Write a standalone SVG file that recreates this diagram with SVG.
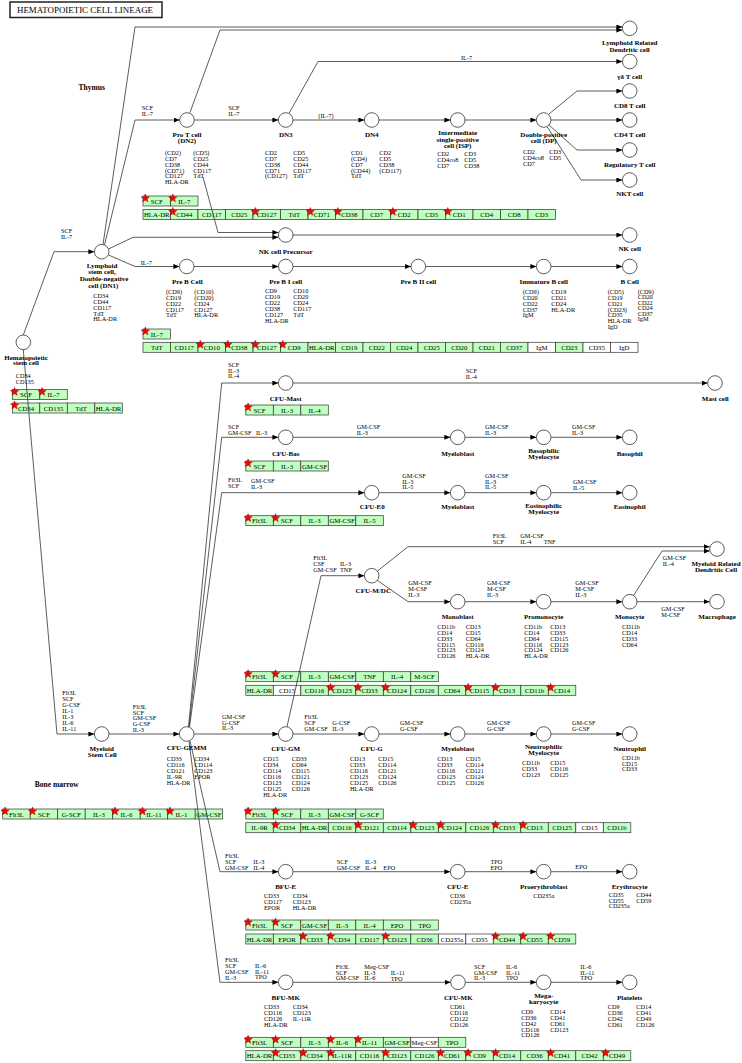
<svg xmlns="http://www.w3.org/2000/svg" width="742" height="1063" viewBox="0 0 742 1063">
<defs>
<style>
.ln{fill:none;stroke:#333;stroke-width:0.8;marker-end:url(#ar)}
.nd circle{fill:#fff;stroke:#333;stroke-width:0.8}
.nm{font-family:"Liberation Serif",serif;font-weight:bold;font-size:7px;text-anchor:middle;fill:#000}
.mk{font-family:"Liberation Serif",serif;font-size:6.3px;fill:#000}
.lb{font-family:"Liberation Serif",serif;font-size:6.3px;fill:#000}
.gb rect{fill:#bfffbf;stroke:#333;stroke-width:0.7}
.gb rect.w{fill:#fff}
.gb text{font-family:"Liberation Serif",serif;font-size:6.8px;text-anchor:middle;fill:#000}
.rg{font-family:"Liberation Serif",serif;font-weight:bold;font-size:7.5px;text-anchor:middle;fill:#000}
</style>
<marker id="ar" markerUnits="userSpaceOnUse" markerWidth="7" markerHeight="6" refX="6" refY="2.5" orient="auto"><path d="M0,0L6,2.5L0,5z" fill="#000"/></marker>
<polygon id="star" points="0,-4.3 1.06,-1.46 4.09,-1.33 1.71,0.56 2.53,3.48 0,1.8 -2.53,3.48 -1.71,0.56 -4.09,-1.33 -1.06,-1.46" fill="#f00" stroke="#900" stroke-width="0.5"/>
</defs>
<rect width="742" height="1063" fill="#fff"/>
<g id="title"><rect x="10" y="2" width="152" height="15.5" fill="#fff" stroke="#222" stroke-width="1.5"/><text x="17" y="13.2" font-family="Liberation Serif, serif" font-size="9" textLength="136" lengthAdjust="spacingAndGlyphs">HEMATOPOIETIC CELL LINEAGE</text></g>
<text class="rg" x="91.7" y="89.5">Thymus</text>
<text class="rg" x="56.7" y="786.8">Bone marrow</text>

<!-- gene boxes -->
<g class="gb" id="genes-t1" transform="translate(143,196)"><rect x="0" y="0" width="27.5" height="10"/><text x="13.75" y="7.8">SCF</text><rect x="27.5" y="0" width="27.5" height="10"/><text x="41.25" y="7.8">IL-7</text><use href="#star" x="2.3" y="2.3"/><use href="#star" x="29.8" y="2.3"/></g>
<g class="gb" id="genes-t2" transform="translate(143,209.5)">
<rect x="0" width="27.5" height="10"/><text x="13.75" y="7.8">HLA-DR</text>
<rect x="27.5" width="27.5" height="10"/><text x="41.25" y="7.8">CD44</text>
<rect x="55" width="27.5" height="10"/><text x="68.75" y="7.8">CD117</text>
<rect x="82.5" width="27.5" height="10"/><text x="96.25" y="7.8">CD25</text>
<rect x="110" width="27.5" height="10"/><text x="123.75" y="7.8">CD127</text>
<rect x="137.5" width="27.5" height="10"/><text x="151.25" y="7.8">TdT</text>
<rect x="165" width="27.5" height="10"/><text x="178.75" y="7.8">CD71</text>
<rect x="192.5" width="27.5" height="10"/><text x="206.25" y="7.8">CD38</text>
<rect x="220" width="27.5" height="10"/><text x="233.75" y="7.8">CD7</text>
<rect x="247.5" width="27.5" height="10"/><text x="261.25" y="7.8">CD2</text>
<rect x="275" width="27.5" height="10"/><text x="288.75" y="7.8">CD5</text>
<rect x="302.5" width="27.5" height="10"/><text x="316.25" y="7.8">CD1</text>
<rect x="330" width="27.5" height="10"/><text x="343.75" y="7.8">CD4</text>
<rect x="357.5" width="27.5" height="10"/><text x="371.25" y="7.8">CD8</text>
<rect x="385" width="27.5" height="10"/><text x="398.75" y="7.8">CD3</text>
<use href="#star" x="29.8" y="2.3"/><use href="#star" x="112.3" y="2.3"/><use href="#star" x="167.3" y="2.3"/><use href="#star" x="194.8" y="2.3"/><use href="#star" x="249.8" y="2.3"/><use href="#star" x="304.8" y="2.3"/>
</g>
<g class="gb" id="genes-b1" transform="translate(143,329)"><rect x="0" width="27.5" height="10"/><text x="13.75" y="7.8">IL-7</text><use href="#star" x="2.3" y="2.3"/></g>
<g class="gb" id="genes-b2" transform="translate(143,342.3)">
<rect x="0" width="27.5" height="10"/><text x="13.75" y="7.8">TdT</text>
<rect x="27.5" width="27.5" height="10"/><text x="41.25" y="7.8">CD117</text>
<rect x="55" width="27.5" height="10"/><text x="68.75" y="7.8">CD10</text>
<rect x="82.5" width="27.5" height="10"/><text x="96.25" y="7.8">CD38</text>
<rect x="110" width="27.5" height="10"/><text x="123.75" y="7.8">CD127</text>
<rect x="137.5" width="27.5" height="10"/><text x="151.25" y="7.8">CD9</text>
<rect x="165" width="27.5" height="10"/><text x="178.75" y="7.8">HLA-DR</text>
<rect x="192.5" width="27.5" height="10"/><text x="206.25" y="7.8">CD19</text>
<rect x="220" width="27.5" height="10"/><text x="233.75" y="7.8">CD22</text>
<rect x="247.5" width="27.5" height="10"/><text x="261.25" y="7.8">CD24</text>
<rect x="275" width="27.5" height="10"/><text x="288.75" y="7.8">CD25</text>
<rect x="302.5" width="27.5" height="10"/><text x="316.25" y="7.8">CD20</text>
<rect x="330" width="27.5" height="10"/><text x="343.75" y="7.8">CD21</text>
<rect x="357.5" width="27.5" height="10"/><text x="371.25" y="7.8">CD37</text>
<rect class="w" x="385" width="27.5" height="10"/><text x="398.75" y="7.8">IgM</text>
<rect x="412.5" width="27.5" height="10"/><text x="426.25" y="7.8">CD23</text>
<rect class="w" x="440" width="27.5" height="10"/><text x="453.75" y="7.8">CD35</text>
<rect class="w" x="467.5" width="27.5" height="10"/><text x="481.25" y="7.8">IgD</text>
<use href="#star" x="57.3" y="2.3"/><use href="#star" x="84.8" y="2.3"/><use href="#star" x="112.3" y="2.3"/><use href="#star" x="139.8" y="2.3"/>
</g>
<g class="gb" id="genes-h1" transform="translate(12.3,389.5)"><rect x="0" width="27.5" height="10"/><text x="13.75" y="7.8">SCF</text><rect x="27.5" width="27.5" height="10"/><text x="41.25" y="7.8">IL-7</text><use href="#star" x="2.3" y="2.3"/><use href="#star" x="29.8" y="2.3"/></g>
<g class="gb" id="genes-h2" transform="translate(12.3,403)"><rect x="0" width="27.5" height="10"/><text x="13.75" y="7.8">CD34</text><rect x="27.5" width="27.5" height="10"/><text x="41.25" y="7.8">CD135</text><rect x="55" width="27.5" height="10"/><text x="68.75" y="7.8">TdT</text><rect x="82.5" width="27.5" height="10"/><text x="96.25" y="7.8">HLA-DR</text><use href="#star" x="2.3" y="2.3"/></g>
<g class="gb" id="genes-mast" transform="translate(245.8,405)"><rect x="0" width="27.5" height="10"/><text x="13.75" y="7.8">SCF</text><rect x="27.5" width="27.5" height="10"/><text x="41.25" y="7.8">IL-3</text><rect x="55" width="27.5" height="10"/><text x="68.75" y="7.8">IL-4</text><use href="#star" x="2.3" y="2.3"/></g>
<g class="gb" id="genes-bas" transform="translate(245.8,461)"><rect x="0" width="27.5" height="10"/><text x="13.75" y="7.8">SCF</text><rect x="27.5" width="27.5" height="10"/><text x="41.25" y="7.8">IL-3</text><rect x="55" width="27.5" height="10"/><text x="68.75" y="7.8">GM-CSF</text><use href="#star" x="2.3" y="2.3"/></g>
<g class="gb" id="genes-eo" transform="translate(245.8,515.7)"><rect x="0" width="27.5" height="10"/><text x="13.75" y="7.8">Flt3L</text><rect x="27.5" width="27.5" height="10"/><text x="41.25" y="7.8">SCF</text><rect x="55" width="27.5" height="10"/><text x="68.75" y="7.8">IL-3</text><rect x="82.5" width="27.5" height="10"/><text x="96.25" y="7.8">GM-CSF</text><rect x="110" width="27.5" height="10"/><text x="123.75" y="7.8">IL-5</text><use href="#star" x="2.3" y="2.3"/><use href="#star" x="29.8" y="2.3"/></g>
<g class="gb" id="genes-mdc1" transform="translate(245.8,671.7)"><rect x="0" width="27.5" height="10"/><text x="13.75" y="7.8">Flt3L</text><rect x="27.5" width="27.5" height="10"/><text x="41.25" y="7.8">SCF</text><rect x="55" width="27.5" height="10"/><text x="68.75" y="7.8">IL-3</text><rect x="82.5" width="27.5" height="10"/><text x="96.25" y="7.8">GM-CSF</text><rect x="110" width="27.5" height="10"/><text x="123.75" y="7.8">TNF</text><rect x="137.5" width="27.5" height="10"/><text x="151.25" y="7.8">IL-4</text><rect x="165" width="27.5" height="10"/><text x="178.75" y="7.8">M-SCF</text><use href="#star" x="2.3" y="2.3"/><use href="#star" x="29.8" y="2.3"/></g>
<g class="gb" id="genes-mdc2" transform="translate(245.8,685.3)">
<rect x="0" width="27.5" height="10"/><text x="13.75" y="7.8">HLA-DR</text>
<rect class="w" x="27.5" width="27.5" height="10"/><text x="41.25" y="7.8">CD15</text>
<rect x="55" width="27.5" height="10"/><text x="68.75" y="7.8">CD116</text>
<rect x="82.5" width="27.5" height="10"/><text x="96.25" y="7.8">CD123</text>
<rect x="110" width="27.5" height="10"/><text x="123.75" y="7.8">CD33</text>
<rect x="137.5" width="27.5" height="10"/><text x="151.25" y="7.8">CD124</text>
<rect x="165" width="27.5" height="10"/><text x="178.75" y="7.8">CD126</text>
<rect x="192.5" width="27.5" height="10"/><text x="206.25" y="7.8">CD64</text>
<rect x="220" width="27.5" height="10"/><text x="233.75" y="7.8">CD115</text>
<rect x="247.5" width="27.5" height="10"/><text x="261.25" y="7.8">CD13</text>
<rect x="275" width="27.5" height="10"/><text x="288.75" y="7.8">CD11b</text>
<rect x="302.5" width="27.5" height="10"/><text x="316.25" y="7.8">CD14</text>
<use href="#star" x="84.8" y="2.3"/><use href="#star" x="112.3" y="2.3"/><use href="#star" x="139.8" y="2.3"/><use href="#star" x="222.3" y="2.3"/><use href="#star" x="249.8" y="2.3"/><use href="#star" x="304.8" y="2.3"/>
</g>
<g class="gb" id="genes-bm" transform="translate(2.7,809)">
<rect x="0" width="27.5" height="10"/><text x="13.75" y="7.8">Flt3L</text>
<rect x="27.5" width="27.5" height="10"/><text x="41.25" y="7.8">SCF</text>
<rect x="55" width="27.5" height="10"/><text x="68.75" y="7.8">G-SCF</text>
<rect x="82.5" width="27.5" height="10"/><text x="96.25" y="7.8">IL-3</text>
<rect x="110" width="27.5" height="10"/><text x="123.75" y="7.8">IL-6</text>
<rect x="137.5" width="27.5" height="10"/><text x="151.25" y="7.8">IL-11</text>
<rect x="165" width="27.5" height="10"/><text x="178.75" y="7.8">IL-1</text>
<rect x="192.5" width="27.5" height="10"/><text x="206.25" y="7.8">GM-CSF</text>
<use href="#star" x="2.3" y="2.3"/><use href="#star" x="29.8" y="2.3"/><use href="#star" x="112.3" y="2.3"/><use href="#star" x="139.8" y="2.3"/><use href="#star" x="167.3" y="2.3"/>
</g>
<g class="gb" id="genes-gm1" transform="translate(245.8,809)"><rect x="0" width="27.5" height="10"/><text x="13.75" y="7.8">Flt3L</text><rect x="27.5" width="27.5" height="10"/><text x="41.25" y="7.8">SCF</text><rect x="55" width="27.5" height="10"/><text x="68.75" y="7.8">IL-3</text><rect x="82.5" width="27.5" height="10"/><text x="96.25" y="7.8">GM-CSF</text><rect x="110" width="27.5" height="10"/><text x="123.75" y="7.8">G-SCF</text><use href="#star" x="2.3" y="2.3"/><use href="#star" x="29.8" y="2.3"/></g>
<g class="gb" id="genes-gm2" transform="translate(245.8,822.7)">
<rect x="0" width="27.5" height="10"/><text x="13.75" y="7.8">IL-9R</text>
<rect x="27.5" width="27.5" height="10"/><text x="41.25" y="7.8">CD34</text>
<rect x="55" width="27.5" height="10"/><text x="68.75" y="7.8">HLA-DR</text>
<rect x="82.5" width="27.5" height="10"/><text x="96.25" y="7.8">CD116</text>
<rect x="110" width="27.5" height="10"/><text x="123.75" y="7.8">CD121</text>
<rect x="137.5" width="27.5" height="10"/><text x="151.25" y="7.8">CD114</text>
<rect x="165" width="27.5" height="10"/><text x="178.75" y="7.8">CD123</text>
<rect x="192.5" width="27.5" height="10"/><text x="206.25" y="7.8">CD124</text>
<rect x="220" width="27.5" height="10"/><text x="233.75" y="7.8">CD126</text>
<rect x="247.5" width="27.5" height="10"/><text x="261.25" y="7.8">CD33</text>
<rect x="275" width="27.5" height="10"/><text x="288.75" y="7.8">CD13</text>
<rect x="302.5" width="27.5" height="10"/><text x="316.25" y="7.8">CD125</text>
<rect class="w" x="330" width="27.5" height="10"/><text x="343.75" y="7.8">CD15</text>
<rect x="357.5" width="27.5" height="10"/><text x="371.25" y="7.8">CD11b</text>
<use href="#star" x="29.8" y="2.3"/><use href="#star" x="112.3" y="2.3"/><use href="#star" x="167.3" y="2.3"/><use href="#star" x="194.8" y="2.3"/><use href="#star" x="249.8" y="2.3"/><use href="#star" x="277.3" y="2.3"/>
</g>
<g class="gb" id="genes-e1" transform="translate(245.8,920)"><rect x="0" width="27.5" height="10"/><text x="13.75" y="7.8">Flt3L</text><rect x="27.5" width="27.5" height="10"/><text x="41.25" y="7.8">SCF</text><rect x="55" width="27.5" height="10"/><text x="68.75" y="7.8">GM-CSF</text><rect x="82.5" width="27.5" height="10"/><text x="96.25" y="7.8">IL-3</text><rect x="110" width="27.5" height="10"/><text x="123.75" y="7.8">IL-4</text><rect x="137.5" width="27.5" height="10"/><text x="151.25" y="7.8">EPO</text><rect x="165" width="27.5" height="10"/><text x="178.75" y="7.8">TPO</text><use href="#star" x="2.3" y="2.3"/><use href="#star" x="29.8" y="2.3"/></g>
<g class="gb" id="genes-e2" transform="translate(245.8,934)">
<rect x="0" width="27.5" height="10"/><text x="13.75" y="7.8">HLA-DR</text>
<rect x="27.5" width="27.5" height="10"/><text x="41.25" y="7.8">EPOR</text>
<rect x="55" width="27.5" height="10"/><text x="68.75" y="7.8">CD33</text>
<rect x="82.5" width="27.5" height="10"/><text x="96.25" y="7.8">CD34</text>
<rect x="110" width="27.5" height="10"/><text x="123.75" y="7.8">CD117</text>
<rect x="137.5" width="27.5" height="10"/><text x="151.25" y="7.8">CD123</text>
<rect x="165" width="27.5" height="10"/><text x="178.75" y="7.8">CD36</text>
<rect class="w" x="192.5" width="27.5" height="10"/><text x="206.25" y="7.8">CD235a</text>
<rect class="w" x="220" width="27.5" height="10"/><text x="233.75" y="7.8">CD35</text>
<rect x="247.5" width="27.5" height="10"/><text x="261.25" y="7.8">CD44</text>
<rect x="275" width="27.5" height="10"/><text x="288.75" y="7.8">CD55</text>
<rect x="302.5" width="27.5" height="10"/><text x="316.25" y="7.8">CD59</text>
<use href="#star" x="57.3" y="2.3"/><use href="#star" x="84.8" y="2.3"/><use href="#star" x="139.8" y="2.3"/><use href="#star" x="249.8" y="2.3"/><use href="#star" x="277.3" y="2.3"/><use href="#star" x="304.8" y="2.3"/>
</g>
<g class="gb" id="genes-mk1" transform="translate(245.8,1037.3)">
<rect x="0" width="27.5" height="10"/><text x="13.75" y="7.8">Flt3L</text>
<rect x="27.5" width="27.5" height="10"/><text x="41.25" y="7.8">SCF</text>
<rect x="55" width="27.5" height="10"/><text x="68.75" y="7.8">IL-3</text>
<rect x="82.5" width="27.5" height="10"/><text x="96.25" y="7.8">IL-6</text>
<rect x="110" width="27.5" height="10"/><text x="123.75" y="7.8">IL-11</text>
<rect x="137.5" width="27.5" height="10"/><text x="151.25" y="7.8">GM-CSF</text>
<rect class="w" x="165" width="27.5" height="10"/><text x="178.75" y="7.8" textLength="26" lengthAdjust="spacingAndGlyphs">Meg-CSF</text>
<rect x="192.5" width="27.5" height="10"/><text x="206.25" y="7.8">TPO</text>
<use href="#star" x="2.3" y="2.3"/><use href="#star" x="29.8" y="2.3"/><use href="#star" x="84.8" y="2.3"/><use href="#star" x="112.3" y="2.3"/>
</g>
<g class="gb" id="genes-mk2" transform="translate(245.8,1050.7)">
<rect x="0" width="27.5" height="10"/><text x="13.75" y="7.8">HLA-DR</text>
<rect x="27.5" width="27.5" height="10"/><text x="41.25" y="7.8">CD33</text>
<rect x="55" width="27.5" height="10"/><text x="68.75" y="7.8">CD34</text>
<rect x="82.5" width="27.5" height="10"/><text x="96.25" y="7.8">IL-11R</text>
<rect x="110" width="27.5" height="10"/><text x="123.75" y="7.8">CD116</text>
<rect x="137.5" width="27.5" height="10"/><text x="151.25" y="7.8">CD123</text>
<rect x="165" width="27.5" height="10"/><text x="178.75" y="7.8">CD126</text>
<rect x="192.5" width="27.5" height="10"/><text x="206.25" y="7.8">CD61</text>
<rect x="220" width="27.5" height="10"/><text x="233.75" y="7.8">CD9</text>
<rect x="247.5" width="27.5" height="10"/><text x="261.25" y="7.8">CD14</text>
<rect x="275" width="27.5" height="10"/><text x="288.75" y="7.8">CD36</text>
<rect x="302.5" width="27.5" height="10"/><text x="316.25" y="7.8">CD41</text>
<rect x="330" width="27.5" height="10"/><text x="343.75" y="7.8">CD42</text>
<rect x="357.5" width="27.5" height="10"/><text x="371.25" y="7.8">CD49</text>
<use href="#star" x="29.8" y="2.3"/><use href="#star" x="57.3" y="2.3"/><use href="#star" x="84.8" y="2.3"/><use href="#star" x="139.8" y="2.3"/><use href="#star" x="194.8" y="2.3"/><use href="#star" x="222.3" y="2.3"/><use href="#star" x="249.8" y="2.3"/><use href="#star" x="304.8" y="2.3"/><use href="#star" x="359.8" y="2.3"/>
</g>

<!-- connectors -->
<g id="connectors">
<path class="ln" d="M23.3,335 L54,251.7 L94.4,251.7"/>
<path class="ln" d="M23.3,349.6 L57,734 L94.4,734"/>
<path class="ln" d="M103,244.5 L135,27 L622.4,27"/>
<path class="ln" d="M190,112.5 L220,30 L622.4,30"/>
<path class="ln" d="M104.5,245 L135,120 L179.7,120"/>
<path class="ln" d="M194.3,120 L278.4,120"/>
<path class="ln" d="M293,120 L364.4,120"/>
<path class="ln" d="M379,120 L450.4,120"/>
<path class="ln" d="M465,120 L536.4,120"/>
<path class="ln" d="M551,120 L622.4,120"/>
<path class="ln" d="M289,113.5 L318,61.5 L622.4,61.5"/>
<path class="ln" d="M549,114 L577,91 L622.4,91"/>
<path class="ln" d="M549,125 L577,150 L622.4,150"/>
<path class="ln" d="M547,126.5 L581,180 L622.4,180"/>
<path class="ln" d="M203,177 L218,232.5 L278.4,232.5"/>
<path class="ln" d="M108.5,249 L133,237.3 L278.4,237.3"/>
<path class="ln" d="M293,235 L622.4,235"/>
<path class="ln" d="M108.5,255 L135,266.5 L179.4,266.5"/>
<path class="ln" d="M194,266.5 L278.4,266.5"/>
<path class="ln" d="M293,266.5 L411,266.5"/>
<path class="ln" d="M425.6,266.5 L536.4,266.5"/>
<path class="ln" d="M551,266.5 L622.4,266.5"/>
<path class="ln" d="M109,734 L179.4,734"/>
<path class="ln" d="M188.5,726.8 L221.7,383 L278.4,383"/>
<path class="ln" d="M189,726.8 L221.7,437.3 L278.4,437.3"/>
<path class="ln" d="M189.5,726.8 L221.7,492.7 L364.4,492.7"/>
<path class="ln" d="M194,734 L278.4,734"/>
<path class="ln" d="M190,741 L220,871.7 L278.4,871.7"/>
<path class="ln" d="M189,741.2 L220,982.3 L278.4,982.3"/>
<path class="ln" d="M293,383 L707.7,383"/>
<path class="ln" d="M293,437.3 L450.4,437.3"/>
<path class="ln" d="M465,437.3 L536.4,437.3"/>
<path class="ln" d="M551,437.3 L622.4,437.3"/>
<path class="ln" d="M379,492.7 L450.4,492.7"/>
<path class="ln" d="M465,492.7 L536.4,492.7"/>
<path class="ln" d="M551,492.7 L622.4,492.7"/>
<path class="ln" d="M287,726.7 L321,575.7 L364.4,575.7"/>
<path class="ln" d="M377.5,571 L408,546.7 L709.7,546.7"/>
<path class="ln" d="M377.5,580.5 L408,601.7 L450.4,601.7"/>
<path class="ln" d="M465,601.7 L536.4,601.7"/>
<path class="ln" d="M551,601.7 L622.4,601.7"/>
<path class="ln" d="M633.5,595.5 L662,551 L709.7,551"/>
<path class="ln" d="M637,601.7 L709.7,601.7"/>
<path class="ln" d="M293,734 L364.4,734"/>
<path class="ln" d="M379,734 L450.4,734"/>
<path class="ln" d="M465,734 L536.4,734"/>
<path class="ln" d="M551,734 L622.4,734"/>
<path class="ln" d="M293,871.7 L450.4,871.7"/>
<path class="ln" d="M465,871.7 L536.4,871.7"/>
<path class="ln" d="M551,871.7 L622.4,871.7"/>
<path class="ln" d="M293,982.3 L450.7,982.3"/>
<path class="ln" d="M465.3,982.3 L536.4,982.3"/>
<path class="ln" d="M551,982.3 L622.4,982.3"/>
</g>

<!-- connector labels -->
<g id="edge-labels" class="lb">
<text x="61" y="233.1">SCF<tspan x="61" dy="5.8">IL-7</tspan></text>
<text x="141.7" y="110.4">SCF<tspan x="141.7" dy="5.8">IL-7</tspan></text>
<text x="228.3" y="110.4">SCF<tspan x="228.3" dy="5.8">IL-7</tspan></text>
<text x="318.3" y="118.1">(IL-7)</text>
<text x="461" y="59.8">IL-7</text>
<text x="140.7" y="264.8">IL-7</text>
<text x="228" y="366.8">SCF<tspan x="228" dy="5.8">IL-3</tspan><tspan x="228" dy="5.8">IL-4</tspan></text>
<text x="465.7" y="373.1">SCF<tspan x="465.7" dy="5.8">IL-4</tspan></text>
<text x="228" y="429.4">SCF<tspan x="228" dy="5.8">GM-CSF</tspan></text>
<text x="256" y="435.1">IL-3</text>
<text x="356.7" y="428.8">GM-CSF<tspan x="356.7" dy="5.8">IL-3</tspan></text>
<text x="485" y="428.8">GM-CSF<tspan x="485" dy="5.8">IL-3</tspan></text>
<text x="572" y="428.8">GM-CSF<tspan x="572" dy="5.8">IL-3</tspan></text>
<text x="228" y="482.1">Flt3L<tspan x="228" dy="5.8">SCF</tspan></text>
<text x="251" y="483.1">GM-CSF<tspan x="251" dy="5.8">IL-3</tspan></text>
<text x="402.3" y="477.8">GM-CSF<tspan x="402.3" dy="5.8">IL-3</tspan><tspan x="402.3" dy="5.8">IL-5</tspan></text>
<text x="485" y="477.8">GM-CSF<tspan x="485" dy="5.8">IL-3</tspan><tspan x="485" dy="5.8">IL-5</tspan></text>
<text x="573" y="483.8">GM-CSF<tspan x="573" dy="5.8">IL-5</tspan></text>
<text x="62.3" y="695.4">Flt3L<tspan x="62.3" dy="5.95">SCF</tspan><tspan x="62.3" dy="5.95">G-CSF</tspan><tspan x="62.3" dy="5.95">IL-1</tspan><tspan x="62.3" dy="5.95">IL-3</tspan><tspan x="62.3" dy="5.95">IL-6</tspan><tspan x="62.3" dy="5.95">IL-11</tspan></text>
<text x="132.7" y="708.8">Flt3L<tspan x="132.7" dy="5.8">SCF</tspan><tspan x="132.7" dy="5.8">GM-CSF</tspan><tspan x="132.7" dy="5.8">G-CSF</tspan><tspan x="132.7" dy="5.8">IL-3</tspan></text>
<text x="222" y="718.8">GM-CSF<tspan x="222" dy="5.8">G-CSF</tspan><tspan x="222" dy="5.8">IL-3</tspan></text>
<text x="313.3" y="560.4">Flt3L<tspan x="313.3" dy="5.8">CSF</tspan><tspan x="313.3" dy="5.8">GM-CSF</tspan></text>
<text x="340" y="566.2">IL-3<tspan x="340" dy="5.8">TNF</tspan></text>
<text x="492.7" y="537.8">Flt3L<tspan x="492.7" dy="5.8">SCF</tspan></text>
<text x="520.3" y="537.8">GM-CSF<tspan x="520.3" dy="5.8">IL-4</tspan></text>
<text x="543.7" y="543.6">TNF</text>
<text x="408.3" y="585.4">GM-CSF<tspan x="408.3" dy="5.8">M-CSF</tspan><tspan x="408.3" dy="5.8">IL-3</tspan></text>
<text x="487" y="585.4">GM-CSF<tspan x="487" dy="5.8">M-CSF</tspan><tspan x="487" dy="5.8">IL-3</tspan></text>
<text x="575.3" y="585.4">GM-CSF<tspan x="575.3" dy="5.8">M-CSF</tspan><tspan x="575.3" dy="5.8">IL-3</tspan></text>
<text x="662.7" y="560.4">GM-CSF<tspan x="662.7" dy="5.8">IL-4</tspan></text>
<text x="661.3" y="611.4">GM-CSF<tspan x="661.3" dy="5.8">M-CSF</tspan></text>
<text x="304.3" y="719.4">Flt3L<tspan x="304.3" dy="5.8">SCF</tspan><tspan x="304.3" dy="5.8">GM-CSF</tspan></text>
<text x="332.3" y="725.2">G-CSF<tspan x="332.3" dy="5.8">IL-3</tspan></text>
<text x="400" y="725.4">GM-CSF<tspan x="400" dy="5.8">G-CSF</tspan></text>
<text x="487" y="725.4">GM-CSF<tspan x="487" dy="5.8">G-CSF</tspan></text>
<text x="572" y="725.4">GM-CSF<tspan x="572" dy="5.8">G-CSF</tspan></text>
<text x="225" y="858.1">Flt3L<tspan x="225" dy="5.8">SCF</tspan><tspan x="225" dy="5.8">GM-CSF</tspan></text>
<text x="253.3" y="863.8">IL-3<tspan x="253.3" dy="5.8">IL-4</tspan></text>
<text x="336.7" y="863.8">SCF<tspan x="336.7" dy="5.8">GM-CSF</tspan></text>
<text x="365" y="863.8">IL-3<tspan x="365" dy="5.8">IL-4</tspan></text>
<text x="383.3" y="869.6">EPO</text>
<text x="490.5" y="863.8">TPO<tspan x="490.5" dy="5.8">EPO</tspan></text>
<text x="575.3" y="869.3">EPO</text>
<text x="225" y="962.1">Flt3L<tspan x="225" dy="5.8">SCF</tspan><tspan x="225" dy="5.8">GM-CSF</tspan><tspan x="225" dy="5.8">IL-3</tspan></text>
<text x="255" y="967.8">IL-6<tspan x="255" dy="5.8">IL-11</tspan><tspan x="255" dy="5.8">TPO</tspan></text>
<text x="335.7" y="968.8">Flt3L<tspan x="335.7" dy="5.8">SCF</tspan><tspan x="335.7" dy="5.8">GM-CSF</tspan></text>
<text x="364.3" y="968.8">Meg-CSF<tspan x="364.3" dy="5.8">IL-3</tspan><tspan x="364.3" dy="5.8">IL-6</tspan></text>
<text x="390.7" y="974.8">IL-11<tspan x="390.7" dy="5.8">TPO</tspan></text>
<text x="474" y="968.8">SCF<tspan x="474" dy="5.8">GM-CSF</tspan><tspan x="474" dy="5.8">IL-3</tspan></text>
<text x="506" y="968.8">IL-6<tspan x="506" dy="5.8">IL-11</tspan><tspan x="506" dy="5.8">TPO</tspan></text>
<text x="580.3" y="968.8">IL-6<tspan x="580.3" dy="5.8">IL-11</tspan><tspan x="580.3" dy="5.8">TPO</tspan></text>
</g>

<!-- nodes -->
<g id="n-hsc" class="nd"><circle cx="23.3" cy="342.3" r="7.3"/><text class="nm" x="26" y="359.5">Hematopoietic<tspan x="26" dy="5.9">stem cell</tspan></text><text class="mk" x="15.7" y="378.1">CD34<tspan x="15.7" dy="5.8">CD135</tspan></text></g>
<g id="n-lsc" class="nd"><circle cx="101.7" cy="251.7" r="7.3"/><text class="nm" x="102" y="268.1">Lymphoid<tspan x="102" dy="6">stem cell,</tspan><tspan x="104" dy="7.2">Double-negative</tspan><tspan x="103.3" dy="6.4">cell (DN1)</tspan></text><text class="mk" x="93.3" y="297.8">CD34<tspan x="93.3" dy="5.9">CD44</tspan><tspan x="93.3" dy="5.9">CD117</tspan><tspan x="93.3" dy="5.9">TdT</tspan><tspan x="93.3" dy="5.9">HLA-DR</tspan></text></g>
<g id="n-prot" class="nd"><circle cx="187" cy="120" r="7.3"/><text class="nm" x="187" y="137.4">Pro T cell<tspan x="187" dy="6">(DN2)</tspan></text><text class="mk" x="165" y="154.8">(CD2)<tspan x="165" dy="5.9">CD7</tspan><tspan x="165" dy="5.9">CD38</tspan><tspan x="165" dy="5.9">(CD71)</tspan><tspan x="165" dy="5.9">CD127</tspan><tspan x="165" dy="5.9">HLA-DR</tspan></text><text class="mk" x="193.3" y="154.8">(CD5)<tspan x="193.3" dy="5.9">CD25</tspan><tspan x="193.3" dy="5.9">CD44</tspan><tspan x="193.3" dy="5.9">CD117</tspan><tspan x="193.3" dy="5.9">TdT</tspan></text></g>
<g id="n-dn3" class="nd"><circle cx="285.7" cy="120" r="7.3"/><text class="nm" x="285.7" y="137.4">DN3</text><text class="mk" x="265" y="154.8">CD2<tspan x="265" dy="5.9">CD7</tspan><tspan x="265" dy="5.9">CD38</tspan><tspan x="265" dy="5.9">CD71</tspan><tspan x="265" dy="5.9">(CD127)</tspan></text><text class="mk" x="293.3" y="154.8">CD5<tspan x="293.3" dy="5.9">CD25</tspan><tspan x="293.3" dy="5.9">CD44</tspan><tspan x="293.3" dy="5.9">CD117</tspan><tspan x="293.3" dy="5.9">TdT</tspan></text></g>
<g id="n-dn4" class="nd"><circle cx="371.7" cy="120" r="7.3"/><text class="nm" x="371.7" y="137.4">DN4</text><text class="mk" x="351" y="154.8">CD1<tspan x="351" dy="5.9">(CD4)</tspan><tspan x="351" dy="5.9">CD7</tspan><tspan x="351" dy="5.9">(CD44)</tspan><tspan x="351" dy="5.9">TdT</tspan></text><text class="mk" x="379.3" y="154.8">CD2<tspan x="379.3" dy="5.9">CD5</tspan><tspan x="379.3" dy="5.9">CD38</tspan><tspan x="379.3" dy="5.9">(CD117)</tspan></text></g>
<g id="n-isp" class="nd"><circle cx="457.7" cy="120" r="7.3"/><text class="nm" x="457.7" y="135.1">Intermediate<tspan x="457.7" dy="6.6">single-positive</tspan><tspan x="457.7" dy="6.6">cell (ISP)</tspan></text><text class="mk" x="437.3" y="156.4">CD2<tspan x="437.3" dy="5.8">CD4co8</tspan><tspan x="437.3" dy="5.8">CD7</tspan></text><text class="mk" x="464.3" y="156.4">CD3<tspan x="464.3" dy="5.8">CD5</tspan><tspan x="464.3" dy="5.8">CD38</tspan></text></g>
<g id="n-dp" class="nd"><circle cx="543.7" cy="120" r="7.3"/><text class="nm" x="543.7" y="137.1">Double-positive<tspan x="543.7" dy="6.2">cell (DP)</tspan></text><text class="mk" x="523" y="154.2">CD2<tspan x="523" dy="5.7">CD4co8</tspan><tspan x="523" dy="5.7">CD7</tspan></text><text class="mk" x="549.3" y="154.2">CD3<tspan x="549.3" dy="5.7">CD5</tspan></text></g>
<g id="n-lrdc" class="nd"><circle cx="629.7" cy="28.3" r="7.3"/><text class="nm" x="629.7" y="45.1">Lymphoid Related<tspan x="629.7" dy="6.4">Dendritic cell</tspan></text></g>
<g id="n-gdt" class="nd"><circle cx="629.7" cy="61.5" r="7.3"/><text class="nm" x="629.7" y="79.1">γδ T cell</text></g>
<g id="n-cd8" class="nd"><circle cx="629.7" cy="91" r="7.3"/><text class="nm" x="629.7" y="108.4">CD8 T cell</text></g>
<g id="n-cd4" class="nd"><circle cx="629.7" cy="120" r="7.3"/><text class="nm" x="629.7" y="137.4">CD4 T cell</text></g>
<g id="n-treg" class="nd"><circle cx="629.7" cy="150" r="7.3"/><text class="nm" x="629.7" y="167.4">Regulatory T cell</text></g>
<g id="n-nkt" class="nd"><circle cx="629.7" cy="180" r="7.3"/><text class="nm" x="629.7" y="195.7">NKT cell</text></g>
<g id="n-nkp" class="nd"><circle cx="285.7" cy="235" r="7.3"/><text class="nm" x="285.7" y="254.1">NK cell Precursor</text></g>
<g id="n-nk" class="nd"><circle cx="629.7" cy="235" r="7.3"/><text class="nm" x="629.7" y="250.7">NK cell</text></g>
<g id="n-preb" class="nd"><circle cx="186.7" cy="266.5" r="7.3"/><text class="nm" x="187.3" y="284.1">Pre B Cell</text><text class="mk" x="166" y="293.8">(CD9)<tspan x="166" dy="5.9">CD19</tspan><tspan x="166" dy="5.9">CD22</tspan><tspan x="166" dy="5.9">CD117</tspan><tspan x="166" dy="5.9">TdT</tspan></text><text class="mk" x="194.3" y="293.8">(CD10)<tspan x="194.3" dy="5.9">(CD20)</tspan><tspan x="194.3" dy="5.9">CD24</tspan><tspan x="194.3" dy="5.9">CD127</tspan><tspan x="194.3" dy="5.9">HLA-DR</tspan></text></g>
<g id="n-prebi" class="nd"><circle cx="285.7" cy="266.5" r="7.3"/><text class="nm" x="285.7" y="284.1">Pre B I cell</text><text class="mk" x="265" y="293.1">CD9<tspan x="265" dy="5.9">CD19</tspan><tspan x="265" dy="5.9">CD22</tspan><tspan x="265" dy="5.9">CD38</tspan><tspan x="265" dy="5.9">CD127</tspan><tspan x="265" dy="5.9">HLA-DR</tspan></text><text class="mk" x="293.3" y="293.1">CD10<tspan x="293.3" dy="5.9">CD20</tspan><tspan x="293.3" dy="5.9">CD24</tspan><tspan x="293.3" dy="5.9">CD117</tspan><tspan x="293.3" dy="5.9">TdT</tspan></text></g>
<g id="n-prebii" class="nd"><circle cx="418.3" cy="266.5" r="7.3"/><text class="nm" x="418.3" y="284.1">Pre B II cell</text></g>
<g id="n-immb" class="nd"><circle cx="543.7" cy="266.5" r="7.3"/><text class="nm" x="543.7" y="284.1">Immature B cell</text><text class="mk" x="522.7" y="293.8">(CD9)<tspan x="522.7" dy="5.9">CD20</tspan><tspan x="522.7" dy="5.9">CD22</tspan><tspan x="522.7" dy="5.9">CD37</tspan><tspan x="522.7" dy="5.9">IgM</tspan></text><text class="mk" x="551.3" y="293.8">CD19<tspan x="551.3" dy="5.9">CD21</tspan><tspan x="551.3" dy="5.9">CD24</tspan><tspan x="551.3" dy="5.9">HLA-DR</tspan></text></g>
<g id="n-bcell" class="nd"><circle cx="629.7" cy="266.5" r="7.3"/><text class="nm" x="629.7" y="284.1">B Cell</text><text class="mk" x="607.7" y="293.8">(CD5)<tspan x="607.7" dy="5.9">CD19</tspan><tspan x="607.7" dy="5.9">CD21</tspan><tspan x="607.7" dy="5.9">(CD23)</tspan><tspan x="607.7" dy="5.9">CD35</tspan><tspan x="607.7" dy="5.9">HLA-DR</tspan><tspan x="607.7" dy="5.9">IgD</tspan></text><text class="mk" x="637.7" y="293.8">(CD9)<tspan x="637.7" dy="5.5">CD20</tspan><tspan x="637.7" dy="5.5">CD22</tspan><tspan x="637.7" dy="5.5">CD24</tspan><tspan x="637.7" dy="5.5">CD37</tspan><tspan x="637.7" dy="5.5">IgM</tspan></text></g>
<g id="n-myl" class="nd"><circle cx="101.7" cy="734" r="7.3"/><text class="nm" x="101.7" y="750.7">Myeloid<tspan x="102.3" dy="6">Stem Cell</tspan></text></g>
<g id="n-gemm" class="nd"><circle cx="186.7" cy="734" r="7.3"/><text class="nm" x="186.7" y="749.7">CFU-GEMM</text><text class="mk" x="166.7" y="761.4">CD33<tspan x="166.7" dy="6">CD116</tspan><tspan x="166.7" dy="6">CD121</tspan><tspan x="166.7" dy="6">IL-9R</tspan><tspan x="166.7" dy="6">HLA-DR</tspan></text><text class="mk" x="194.3" y="761.4">CD34<tspan x="194.3" dy="6">CD114</tspan><tspan x="194.3" dy="6">CD123</tspan><tspan x="194.3" dy="6">EPOR</tspan></text></g>
<g id="n-cfumast" class="nd"><circle cx="285.7" cy="383" r="7.3"/><text class="nm" x="285.7" y="400.7">CFU-Mast</text></g>
<g id="n-mast" class="nd"><circle cx="715" cy="383" r="7.3"/><text class="nm" x="715.3" y="401.4">Mast cell</text></g>
<g id="n-cfubas" class="nd"><circle cx="285.7" cy="437.3" r="7.3"/><text class="nm" x="285.7" y="455.7">CFU-Bas</text></g>
<g id="n-myb1" class="nd"><circle cx="457.7" cy="437.3" r="7.3"/><text class="nm" x="457.7" y="455.7">Myeloblast</text></g>
<g id="n-basmy" class="nd"><circle cx="543.7" cy="437.3" r="7.3"/><text class="nm" x="543.7" y="453.4">Basophilic<tspan x="543.7" dy="6">Myelocyte</tspan></text></g>
<g id="n-baso" class="nd"><circle cx="629.7" cy="437.3" r="7.3"/><text class="nm" x="629.7" y="455.7">Basophil</text></g>
<g id="n-cfueo" class="nd"><circle cx="371.7" cy="492.7" r="7.3"/><text class="nm" x="372.3" y="509.1">CFU-E0</text></g>
<g id="n-myb2" class="nd"><circle cx="457.7" cy="492.7" r="7.3"/><text class="nm" x="457.7" y="509.1">Myeloblast</text></g>
<g id="n-eomy" class="nd"><circle cx="543.7" cy="492.7" r="7.3"/><text class="nm" x="543.7" y="508.1">Eosinophilic<tspan x="543.7" dy="6">Myelocyte</tspan></text></g>
<g id="n-eos" class="nd"><circle cx="629.7" cy="492.7" r="7.3"/><text class="nm" x="629.7" y="509.1">Eosinophil</text></g>
<g id="n-mdc" class="nd"><circle cx="371.7" cy="575.7" r="7.3"/><text class="nm" x="373.3" y="593.4">CFU-M/DC</text></g>
<g id="n-monob" class="nd"><circle cx="457.7" cy="601.7" r="7.3"/><text class="nm" x="457.7" y="619.1">Monoblast</text><text class="mk" x="437.3" y="628.8">CD11b<tspan x="437.3" dy="5.9">CD14</tspan><tspan x="437.3" dy="5.9">CD33</tspan><tspan x="437.3" dy="5.9">CD115</tspan><tspan x="437.3" dy="5.9">CD123</tspan><tspan x="437.3" dy="5.9">CD126</tspan></text><text class="mk" x="465.7" y="628.8">CD13<tspan x="465.7" dy="5.9">CD15</tspan><tspan x="465.7" dy="5.9">CD64</tspan><tspan x="465.7" dy="5.9">CD116</tspan><tspan x="465.7" dy="5.9">CD124</tspan><tspan x="465.7" dy="5.9">HLA-DR</tspan></text></g>
<g id="n-promono" class="nd"><circle cx="543.7" cy="601.7" r="7.3"/><text class="nm" x="543.7" y="619.1">Promonocyte</text><text class="mk" x="524.3" y="628.8">CD11b<tspan x="524.3" dy="5.9">CD14</tspan><tspan x="524.3" dy="5.9">CD64</tspan><tspan x="524.3" dy="5.9">CD116</tspan><tspan x="524.3" dy="5.9">CD124</tspan><tspan x="524.3" dy="5.9">HLA-DR</tspan></text><text class="mk" x="550.3" y="628.8">CD13<tspan x="550.3" dy="5.9">CD33</tspan><tspan x="550.3" dy="5.9">CD115</tspan><tspan x="550.3" dy="5.9">CD123</tspan><tspan x="550.3" dy="5.9">CD126</tspan></text></g>
<g id="n-mono" class="nd"><circle cx="629.7" cy="601.7" r="7.3"/><text class="nm" x="629.7" y="619.1">Monocyte</text><text class="mk" x="622" y="628.8">CD11b<tspan x="622" dy="5.9">CD14</tspan><tspan x="622" dy="5.9">CD33</tspan><tspan x="622" dy="5.9">CD64</tspan></text></g>
<g id="n-mrdc" class="nd"><circle cx="717" cy="549" r="7.3"/><text class="nm" x="716" y="565.7">Myeloid Related<tspan x="716" dy="6">Dendritic Cell</tspan></text></g>
<g id="n-macro" class="nd"><circle cx="717" cy="601.7" r="7.3"/><text class="nm" x="717" y="619.1">Macrophage</text></g>
<g id="n-gm" class="nd"><circle cx="285.7" cy="734" r="7.3"/><text class="nm" x="285.7" y="751.4">CFU-GM</text><text class="mk" x="263.3" y="761.4">CD15<tspan x="263.3" dy="5.95">CD34</tspan><tspan x="263.3" dy="5.95">CD114</tspan><tspan x="263.3" dy="5.95">CD116</tspan><tspan x="263.3" dy="5.95">CD123</tspan><tspan x="263.3" dy="5.95">CD125</tspan><tspan x="263.3" dy="5.95">HLA-DR</tspan></text><text class="mk" x="291.7" y="761.4">CD33<tspan x="291.7" dy="5.95">CD64</tspan><tspan x="291.7" dy="5.95">CD115</tspan><tspan x="291.7" dy="5.95">CD121</tspan><tspan x="291.7" dy="5.95">CD124</tspan><tspan x="291.7" dy="5.95">CD126</tspan></text></g>
<g id="n-g" class="nd"><circle cx="371.7" cy="734" r="7.3"/><text class="nm" x="371.7" y="751.4">CFU-G</text><text class="mk" x="350" y="761.4">CD13<tspan x="350" dy="5.95">CD33</tspan><tspan x="350" dy="5.95">CD116</tspan><tspan x="350" dy="5.95">CD123</tspan><tspan x="350" dy="5.95">CD125</tspan><tspan x="350" dy="5.95">HLA-DR</tspan></text><text class="mk" x="378.3" y="761.4">CD15<tspan x="378.3" dy="5.95">CD114</tspan><tspan x="378.3" dy="5.95">CD121</tspan><tspan x="378.3" dy="5.95">CD124</tspan><tspan x="378.3" dy="5.95">CD126</tspan></text></g>
<g id="n-myb3" class="nd"><circle cx="457.7" cy="734" r="7.3"/><text class="nm" x="457.7" y="751.4">Myeloblast</text><text class="mk" x="437.3" y="761.4">CD13<tspan x="437.3" dy="5.95">CD33</tspan><tspan x="437.3" dy="5.95">CD116</tspan><tspan x="437.3" dy="5.95">CD123</tspan><tspan x="437.3" dy="5.95">CD125</tspan></text><text class="mk" x="465.7" y="761.4">CD15<tspan x="465.7" dy="5.95">CD114</tspan><tspan x="465.7" dy="5.95">CD121</tspan><tspan x="465.7" dy="5.95">CD124</tspan><tspan x="465.7" dy="5.95">CD126</tspan></text></g>
<g id="n-neumy" class="nd"><circle cx="543.7" cy="734" r="7.3"/><text class="nm" x="543.7" y="749.1">Neutrophilic<tspan x="543.7" dy="6">Myelocyte</tspan></text><text class="mk" x="522" y="765.4">CD11b<tspan x="522" dy="5.95">CD33</tspan><tspan x="522" dy="5.95">CD123</tspan></text><text class="mk" x="550.3" y="765.4">CD15<tspan x="550.3" dy="5.95">CD116</tspan><tspan x="550.3" dy="5.95">CD125</tspan></text></g>
<g id="n-neu" class="nd"><circle cx="629.7" cy="734" r="7.3"/><text class="nm" x="629.7" y="751.4">Neutrophil</text><text class="mk" x="622" y="760.4">CD11b<tspan x="622" dy="5.5">CD15</tspan><tspan x="622" dy="5.5">CD33</tspan></text></g>
<g id="n-bfue" class="nd"><circle cx="285.7" cy="871.7" r="7.3"/><text class="nm" x="285.7" y="889.1">BFU-E</text><text class="mk" x="264" y="898.1">CD33<tspan x="264" dy="6.1">CD117</tspan><tspan x="264" dy="6.1">EPOR</tspan></text><text class="mk" x="292.7" y="898.1">CD34<tspan x="292.7" dy="6.1">CD123</tspan><tspan x="292.7" dy="6.1">HLA-DR</tspan></text></g>
<g id="n-cfue" class="nd"><circle cx="457.7" cy="871.7" r="7.3"/><text class="nm" x="457.7" y="889.1">CFU-E</text><text class="mk" x="450" y="898.1">CD36<tspan x="450" dy="6">CD235a</tspan></text></g>
<g id="n-proery" class="nd"><circle cx="543.7" cy="871.7" r="7.3"/><text class="nm" x="543.7" y="889.1">Proerythroblast</text><text class="mk" x="543.7" y="898.1" text-anchor="middle">CD235a</text></g>
<g id="n-ery" class="nd"><circle cx="629.7" cy="871.7" r="7.3"/><text class="nm" x="629.7" y="889.1">Erythrocyte</text><text class="mk" x="608.7" y="897.4">CD35<tspan x="608.7" dy="5.4">CD55</tspan><tspan x="608.7" dy="5.4">CD235a</tspan></text><text class="mk" x="636.3" y="897.4">CD44<tspan x="636.3" dy="5.4">CD59</tspan></text></g>
<g id="n-bfumk" class="nd"><circle cx="285.7" cy="982.3" r="7.3"/><text class="nm" x="285.7" y="999.7">BFU-MK</text><text class="mk" x="264" y="1009.4">CD33<tspan x="264" dy="5.9">CD116</tspan><tspan x="264" dy="5.9">CD126</tspan><tspan x="264" dy="5.9">HLA-DR</tspan></text><text class="mk" x="292.7" y="1009.4">CD34<tspan x="292.7" dy="5.9">CD123</tspan><tspan x="292.7" dy="5.9">IL-11R</tspan></text></g>
<g id="n-cfumk" class="nd"><circle cx="458" cy="982.3" r="7.3"/><text class="nm" x="458.3" y="999.7">CFU-MK</text><text class="mk" x="450" y="1009.4">CD61<tspan x="450" dy="5.9">CD116</tspan><tspan x="450" dy="5.9">CD122</tspan><tspan x="450" dy="5.9">CD126</tspan></text></g>
<g id="n-mega" class="nd"><circle cx="543.7" cy="982.3" r="7.3"/><text class="nm" x="543.7" y="998.2">Mega-<tspan x="543.7" dy="6.2">karyocyte</tspan></text><text class="mk" x="521.3" y="1014">CD9<tspan x="521.3" dy="5.85">CD36</tspan><tspan x="521.3" dy="5.85">CD42</tspan><tspan x="521.3" dy="5.85">CD116</tspan><tspan x="521.3" dy="5.85">CD126</tspan></text><text class="mk" x="550.3" y="1014">CD14<tspan x="550.3" dy="5.85">CD41</tspan><tspan x="550.3" dy="5.85">CD61</tspan><tspan x="550.3" dy="5.85">CD123</tspan></text></g>
<g id="n-plt" class="nd"><circle cx="629.7" cy="982.3" r="7.3"/><text class="nm" x="629.7" y="999.7">Platelets</text><text class="mk" x="607.7" y="1009.4">CD9<tspan x="607.7" dy="5.9">CD36</tspan><tspan x="607.7" dy="5.9">CD42</tspan><tspan x="607.7" dy="5.9">CD61</tspan></text><text class="mk" x="636.3" y="1009.4">CD14<tspan x="636.3" dy="5.9">CD41</tspan><tspan x="636.3" dy="5.9">CD49</tspan><tspan x="636.3" dy="5.9">CD126</tspan></text></g>
</svg>
